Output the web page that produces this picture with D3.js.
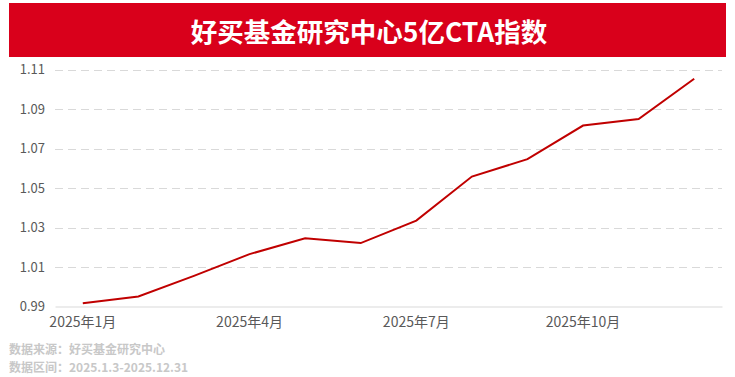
<!DOCTYPE html>
<html>
<head>
<meta charset="utf-8">
<script src="https://cdn.jsdelivr.net/npm/d3@7"></script>
<style>
  body { margin: 0; background: #fff; }
  svg { display: block; font-family: "Microsoft YaHei", "Noto Sans CJK SC", sans-serif; }
</style>
</head>
<body>
<svg width="735" height="377"></svg>
<script>
// monthly index values
var months = ["2025年1月", "2025年2月", "2025年3月", "2025年4月", "2025年5月", "2025年6月",
              "2025年7月", "2025年8月", "2025年9月", "2025年10月", "2025年11月", "2025年12月"];
var values = [0.9917, 0.9951, 1.0055, 1.0165, 1.0246, 1.0221,
              1.0335, 1.0558, 1.0646, 1.0816, 1.0849, 1.1053];
var yTicks = [0.99, 1.01, 1.03, 1.05, 1.07, 1.09, 1.11];
var xTickLabels = ["2025年1月", "2025年4月", "2025年7月", "2025年10月"];

var title = "好买基金研究中心5亿CTA指数";
var notes = ["数据来源：好买基金研究中心", "数据区间：2025.1.3-2025.12.31"];

var svg = d3.select("svg");

// title banner
svg.append("rect")
  .attr("x", 9).attr("y", 3)
  .attr("width", 717).attr("height", 54)
  .attr("fill", "#d9001b");

svg.append("text")
  .attr("x", 369).attr("y", 33)
  .attr("dy", ".35em")
  .attr("text-anchor", "middle")
  .attr("fill", "#fff")
  .attr("font-size", "26.5px")
  .attr("font-weight", "bold")
  .text(title);

var x = d3.scaleBand()
  .domain(months)
  .range([55, 722]);

var y = d3.scaleLinear()
  .domain([0.99, 1.11])
  .range([306.5, 69.5]);

// grid lines
svg.append("g")
  .selectAll("line")
  .data(yTicks.slice(1))
  .enter()
  .append("line")
  .attr("x1", 55).attr("x2", 722)
  .attr("y1", function(d) { return Math.round(y(d)) + 0.5; })
  .attr("y2", function(d) { return Math.round(y(d)) + 0.5; })
  .attr("stroke", "#d9d9d9")
  .attr("stroke-dasharray", "8,5");

// y axis
var yAxis = d3.axisLeft(y)
  .tickValues(yTicks)
  .tickFormat(d3.format(".2f"))
  .tickSize(0)
  .tickPadding(10);

var gy = svg.append("g")
  .attr("transform", "translate(55,0)")
  .call(yAxis);
gy.select(".domain").remove();
gy.selectAll("text")
  .attr("fill", "#595959")
  .attr("font-size", "13px")
  .attr("font-family", "\"Microsoft YaHei\", \"Noto Sans CJK SC\", sans-serif");

// x axis
var xAxis = d3.axisBottom(x)
  .tickValues(xTickLabels)
  .tickSize(0)
  .tickPadding(11)
  .tickSizeOuter(0);

var gx = svg.append("g")
  .attr("transform", "translate(0,306.5)")
  .call(xAxis);
gx.select(".domain").attr("stroke", "#d9d9d9");
gx.selectAll("text")
  .attr("fill", "#595959")
  .attr("font-size", "14px")
  .attr("font-family", "\"Microsoft YaHei\", \"Noto Sans CJK SC\", sans-serif");

// the index line
var line = d3.line()
  .x(function(d, i) { return x(months[i]) + x.bandwidth() / 2; })
  .y(function(d) { return y(d); });

svg.append("path")
  .datum(values)
  .attr("fill", "none")
  .attr("stroke", "#c00000")
  .attr("stroke-width", 2)
  .attr("d", line);

// source notes
svg.append("g")
  .selectAll("text")
  .data(notes)
  .enter()
  .append("text")
  .attr("x", 9)
  .attr("y", function(d, i) { return 350 + i * 18; })
  .attr("dy", ".35em")
  .attr("fill", "#c8c8c8")
  .attr("font-size", "12px")
  .attr("font-weight", "bold")
  .text(function(d) { return d; });
</script>
</body>
</html>
